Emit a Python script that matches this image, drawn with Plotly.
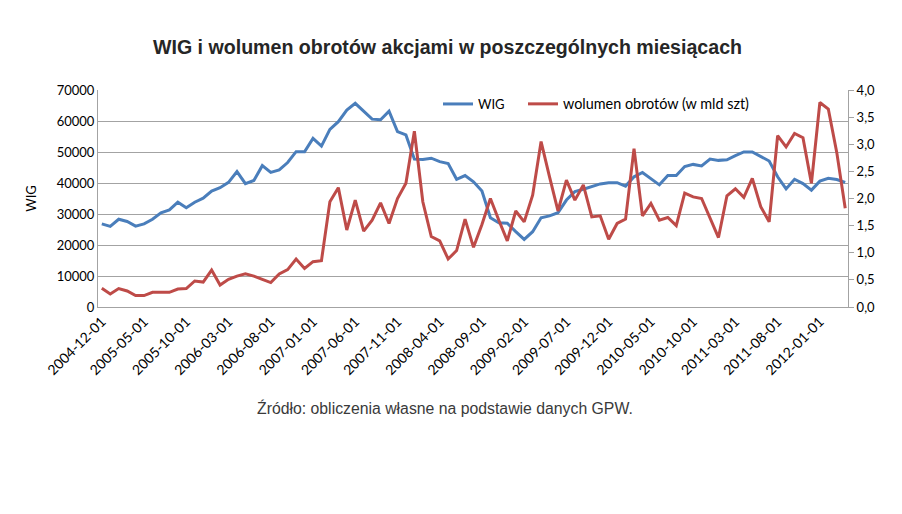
import pandas as pd
import plotly.graph_objects as go

dates = [d.strftime("%Y-%m-%d") for d in pd.date_range("2004-12-01", "2012-04-01", freq="MS")]

wig = [26800, 26000, 28300, 27600, 26100, 26800, 28300, 30400, 31300, 33800,
       32000, 33800, 35100, 37400, 38500, 40200, 43700, 39800, 40800, 45600,
       43400, 44200, 46600, 50100, 50100, 54400, 51900, 57300, 59800, 63500,
       65700, 63300, 60600, 60400, 63200, 56600, 55500, 47700, 47600, 48000,
       46900, 46300, 41200, 42400, 40400, 37400, 28800, 27200, 27000, 24300,
       21800, 24300, 28800, 29400, 30400, 34500, 37200, 38000, 38800, 39700,
       40100, 40100, 39000, 42000, 43400, 41500, 39400, 42400, 42400, 45300,
       46000, 45500, 47700, 47300, 47500, 48800, 50000, 50000, 48500, 47100,
       42000, 38100, 41200, 39800, 37700, 40600, 41500, 41100, 40200]

wolumen = [0.345, 0.24, 0.34, 0.295, 0.21, 0.21, 0.27, 0.27, 0.27, 0.33,
           0.34, 0.48, 0.46, 0.68, 0.405, 0.51, 0.57, 0.61, 0.57, 0.51,
           0.45, 0.61, 0.69, 0.885, 0.71, 0.835, 0.855, 1.94, 2.20, 1.42,
           1.97, 1.40, 1.60, 1.92, 1.54, 2.00, 2.28, 3.24, 1.94, 1.30,
           1.22, 0.885, 1.04, 1.62, 1.10, 1.52, 2.00, 1.60, 1.22, 1.77,
           1.57, 2.06, 3.05, 2.40, 1.77, 2.34, 1.97, 2.25, 1.66, 1.68,
           1.25, 1.54, 1.62, 2.92, 1.68, 1.91, 1.60, 1.65, 1.50, 2.10,
           2.03, 2.00, 1.65, 1.28, 2.05, 2.18, 2.02, 2.37, 1.85, 1.57,
           3.16, 2.95, 3.20, 3.12, 2.28, 3.77, 3.65, 2.85, 1.82]

tick_labels = dates[::5]

title_text = "WIG i wolumen obrotów akcjami w poszczególnych miesiącach"
source_text = "Źródło: obliczenia własne na podstawie danych GPW."
name_wig = "WIG"
name_vol = "wolumen obrotów (w mld szt)"

FONT = "Lato"
GRID = "#a3a3a3"

# page body has an 8px margin; figure is sized so the plot area sits where the reference has it
W, H = 894, 506
PL, PT, PR = 90, 82, 54
PW, PH = 750, 217


def px(xr):
    return (xr - 98) / PW


def py(yr):
    return (307 - yr) / PH


fig = go.Figure()
fig.add_trace(go.Scatter(x=dates, y=wig, name=name_wig, mode="lines",
                         line=dict(color="#4A7EBB", width=3), yaxis="y",
                         legend="legend"))
fig.add_trace(go.Scatter(x=dates, y=wolumen, name=name_vol, mode="lines",
                         line=dict(color="#BE4B48", width=3), yaxis="y2",
                         legend="legend2"))

legend_common = dict(orientation="h", xanchor="left", yanchor="middle",
                     bgcolor="rgba(0,0,0,0)")

fig.update_layout(
    width=W, height=H,
    margin=dict(l=PL, r=PR, t=PT, b=H - PT - PH, pad=0),
    paper_bgcolor="white", plot_bgcolor="white",
    separators=", ",
    font=dict(family=FONT, size=13, color="#000000"),
    title=dict(text="<b>" + title_text + "</b>", xref="container",
               x=439.5 / W, xanchor="center",
               y=1 - 39 / H, yanchor="middle",
               font=dict(family="Liberation Sans", size=19.6, color="#262626")),
    showlegend=True,
    legend=dict(x=px(438), y=py(104), font=dict(family=FONT, size=13), **legend_common),
    legend2=dict(x=px(523), y=py(104), font=dict(family=FONT, size=14.4), **legend_common),
    xaxis=dict(type="category", range=[-0.45, 88.33],
               tickvals=tick_labels, ticktext=tick_labels, tickangle=-45,
               showgrid=False, showline=True, linecolor=GRID, linewidth=1,
               ticks="", tickfont=dict(family=FONT, size=14), zeroline=False),
    yaxis=dict(range=[0, 70000], dtick=10000, tickformat="d",
               showgrid=True, gridcolor=GRID, gridwidth=1,
               showline=True, linecolor=GRID, linewidth=1, ticks="",
               zeroline=False, tickfont=dict(family=FONT, size=13),
               title=dict(text=name_wig, font=dict(family=FONT, size=13), standoff=17)),
    yaxis2=dict(range=[0, 4], dtick=0.5, tickformat=".1f", overlaying="y",
                side="right", showgrid=False, showline=True, linecolor=GRID,
                linewidth=1, ticks="outside", ticklen=5, tickcolor=GRID,
                zeroline=False, tickfont=dict(family=FONT, size=13)),
    annotations=[dict(text=source_text, xref="paper", yref="paper",
                      x=px(445), y=py(408),
                      xanchor="center", yanchor="middle", showarrow=False,
                      font=dict(family="Liberation Sans", size=15.8, color="#3a3a3a"))],
)

fig.write_html("out.html")
